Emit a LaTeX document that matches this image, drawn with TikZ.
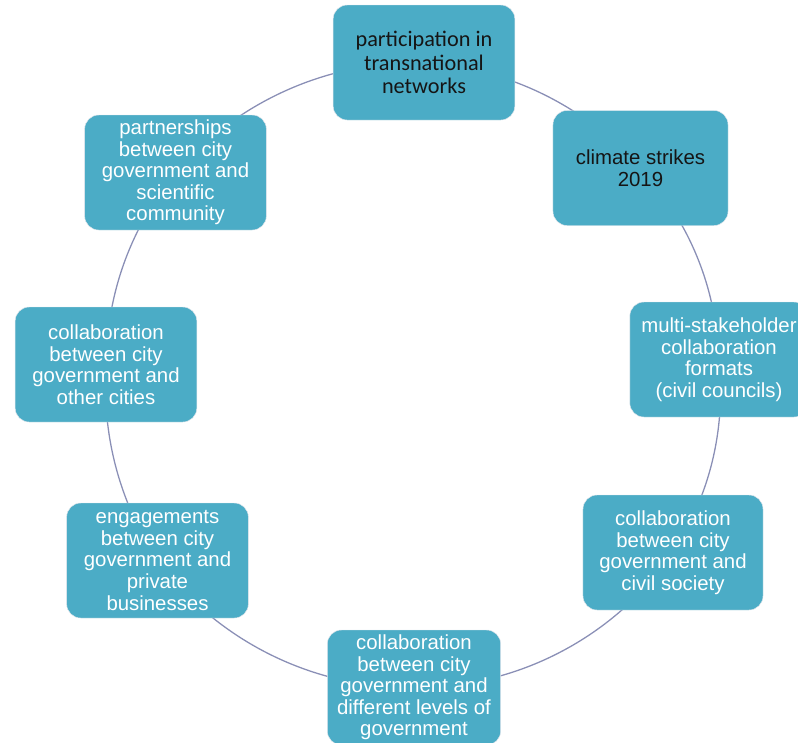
\documentclass[tikz,border=0pt]{standalone}
\usepackage{fontspec}
\setmainfont{Liberation Sans}
\newfontfamily\carlito{Carlito}
\usepackage{xcolor}
\definecolor{CYteal}{HTML}{4BACC6}
\definecolor{CYline}{HTML}{8A8FB6}
\definecolor{CYrim}{HTML}{E3E6EC}
\definecolor{CYink}{HTML}{151515}
\usepackage{tikz}
\usetikzlibrary{positioning, backgrounds}

\begin{document}
\begin{tikzpicture}[
  x=0.03cm, y=0.03cm,
  box/.style={
    draw=CYrim, line width=0.4pt, rounded corners=12pt,
    fill=CYteal, minimum width=5.45cm, minimum height=3.45cm,
    font=\fontsize{17.4}{18.4}\selectfont, text=white, align=center, inner sep=2pt
  },
  dark/.style={text=CYink},
  link/.style={draw=CYline, line width=1.1pt, looseness=0.9},
]
\useasboundingbox (0,0) rectangle (798,-743);

% Top — networks
\node[box, dark, font=\carlito\fontsize{19}{20}\selectfont] (transnat) at (424,-62.5)
  {participation in\\transnational\\networks};

% Right side
\node[box, dark, minimum width=5.25cm] (strikes) at (640.5,-168) {climate strikes\\2019};
\node[box, minimum width=5.35cm] (multi) at (719,-359.5)
  {multi-stakeholder\\collaboration\\formats\\(civil councils)};
\node[box, minimum width=5.4cm] (civil) at (673,-552.5)
  {collaboration\\between city\\government and\\civil society};

% Bottom
\node[box, minimum width=5.2cm] (levels) at (414,-687.5)
  {collaboration\\between city\\government and\\different levels of\\government};

% Left side
\node[box] (business) at (157.5,-560.5)
  {engagements\\between city\\government and\\private\\businesses};
\node[box] (cities) at (106,-364.5)
  {collaboration\\between city\\government and\\other cities};
\node[box] (science) at (175.5,-172.5)
  {partnerships\\between city\\government and\\scientific\\community};

% Cycle (runs behind the boxes)
\begin{scope}[on background layer]
\draw[link] (transnat.center) to[bend left=22] (strikes.center);
\draw[link] (strikes.center) to[bend left=20] (multi.center);
\draw[link] (multi.center) to[bend left=19] (civil.center);
\draw[link] (civil.center) to[bend left=28] (levels.center);
\draw[link] (levels.center) to[bend left=27] (business.center);
\draw[link] (business.center) to[bend left=18] (cities.center);
\draw[link] (cities.center) to[bend left=19] (science.center);
\draw[link] (science.center) to[bend left=25] (transnat.center);
\end{scope}

\end{tikzpicture}
\end{document}
